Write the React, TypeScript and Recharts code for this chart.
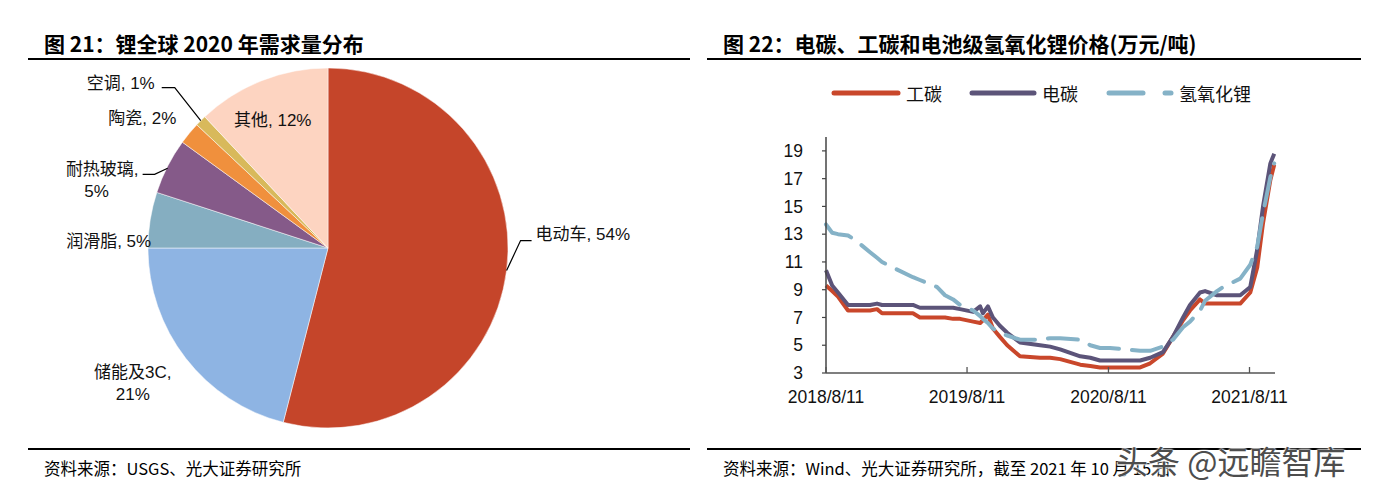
import React from "react";
import { PieChart, Pie, Cell, LineChart, Line, XAxis, YAxis } from "recharts";

// 图21 pie
const pieNames = ["电动车", "储能及3C", "润滑脂", "耐热玻璃", "陶瓷", "空调", "其他"];
const pieShares = [54, 21, 5, 5, 2, 1, 12];
const pieColors = ["#C5452A", "#8EB4E3", "#85AEC1", "#855A89", "#F0903D", "#D8B95B", "#FDD4C1"];

// 图22 price lines (万元/吨)
const priceDates = [
  "2018-08-11", "2018-08-27", "2018-09-11", "2018-10-07", "2018-10-25", "2018-12-03",
  "2018-12-21", "2019-01-03", "2019-01-31", "2019-03-24", "2019-04-11", "2019-05-25",
  "2019-06-15", "2019-07-06", "2019-07-24", "2019-08-27", "2019-09-14", "2019-09-21",
  "2019-10-04", "2019-10-17", "2019-11-04", "2019-11-23", "2019-12-26", "2020-02-16",
  "2020-03-13", "2020-04-08", "2020-05-30", "2020-06-25", "2020-07-20", "2020-08-15",
  "2020-11-01", "2020-11-27", "2020-12-30", "2021-01-25", "2021-02-20", "2021-03-10",
  "2021-04-05", "2021-04-18", "2021-05-19", "2021-06-04", "2021-07-18", "2021-08-13",
  "2021-08-31", "2021-09-15", "2021-10-04", "2021-10-14",
];
const gongTan = [
  9.3, 8.9, 8.5, 7.5, 7.5, 7.5, 7.6, 7.3, 7.3, 7.3, 7.0, 7.0,
  7.0, 6.9, 6.9, 6.7, 6.6, 6.8, 7.2, 6.2, 5.6, 5.0, 4.2, 4.1,
  4.1, 4.0, 3.6, 3.5, 3.4, 3.4, 3.4, 3.7, 4.4, 5.6, 6.8, 7.5,
  8.3, 8.0, 8.0, 8.0, 8.0, 8.8, 10.6, 13.8, 16.9, 18.0,
];
const dianTan = [
  10.4, 9.3, 8.8, 7.9, 7.9, 7.9, 8.0, 7.9, 7.9, 7.9, 7.7, 7.7,
  7.7, 7.7, 7.6, 7.4, 7.8, 7.3, 7.8, 7.0, 6.4, 5.9, 5.2, 5.0,
  4.9, 4.7, 4.2, 4.1, 3.9, 3.9, 3.9, 4.1, 4.5, 5.6, 7.0, 7.9,
  8.8, 8.9, 8.6, 8.6, 8.6, 9.2, 11.9, 15.0, 18.1, 18.8,
];
const lithiumHydroxide = [
  13.7, 13.1, 13.0, 12.9, 12.6, 11.7, 11.3, 11.0, 10.6, 9.9, 9.7, 9.2,
  8.6, 8.3, 7.9, 7.5, 7.1, 6.9, 6.6, 6.2, 5.9, 5.7, 5.4, 5.4,
  5.5, 5.5, 5.4, 5.0, 4.8, 4.8, 4.6, 4.6, 4.9, 5.4, 6.3, 6.7,
  7.5, 8.2, 8.9, 9.2, 9.8, 10.8, 12.1, 14.5, 17.1, 18.1,
];
const xTickDates = ["2018-08-11", "2019-08-11", "2020-08-11", "2021-08-11"];
const yTicks = [3, 5, 7, 9, 11, 13, 15, 17, 19];

const toT = (d: string) => {
  const [y, m, day] = d.split("-").map(Number);
  return Date.UTC(y, m - 1, day);
};
const fmtDate = (t: number) => {
  const d = new Date(t);
  return `${d.getUTCFullYear()}/${d.getUTCMonth() + 1}/${d.getUTCDate()}`;
};

const pieData = pieNames.map((name, i) => ({ name, value: pieShares[i] }));
const lineData = priceDates.map((d, i) => ({
  t: toT(d),
  gongTan: gongTan[i],
  dianTan: dianTan[i],
  lioh: lithiumHydroxide[i],
}));

const CJK = '"Noto Sans CJK SC", sans-serif';
const LABEL_FONT = '"Liberation Sans", Arial, "Noto Sans CJK SC", sans-serif';

// label placement relative to the slice's outer-edge midpoint
const labelLayout: Record<string, { leader?: number[][]; lines: { dx: number; dy: number; anchor: string; part: string }[] }> = {
  电动车: { leader: [[0, 0], [14, -30], [25, -30]], lines: [{ dx: 29, dy: -36, anchor: "start", part: "full" }] },
  储能及3C: {
    lines: [
      { dx: -53, dy: 14, anchor: "middle", part: "name" },
      { dx: -53, dy: 36, anchor: "middle", part: "pct" },
    ],
  },
  润滑脂: { lines: [{ dx: 1, dy: 22, anchor: "end", part: "full" }] },
  耐热玻璃: {
    leader: [[0, 2], [-13, 8], [-25, 8]],
    lines: [
      { dx: -29, dy: 3, anchor: "end", part: "name" },
      { dx: -71, dy: 25, anchor: "middle", part: "pct" },
    ],
  },
  陶瓷: { lines: [{ dx: -13, dy: -15, anchor: "end", part: "full" }] },
  空调: { leader: [[0, 0], [-26, -33], [-39, -33]], lines: [{ dx: -46, dy: -37, anchor: "end", part: "full" }] },
  其他: { lines: [{ dx: 11, dy: 40, anchor: "middle", part: "full" }] },
};

function PieLabel(props: any) {
  const { cx, cy, midAngle, outerRadius, name, value } = props;
  const rad = (-midAngle * Math.PI) / 180;
  const ex = cx + outerRadius * Math.cos(rad);
  const ey = cy + outerRadius * Math.sin(rad);
  const cfg = labelLayout[name];
  if (!cfg) return null;
  return (
    <g>
      {cfg.leader && (
        <polyline
          points={cfg.leader.map(([dx, dy]) => `${ex + dx},${ey + dy}`).join(" ")}
          fill="none"
          stroke="#000"
          strokeWidth={1.2}
        />
      )}
      {cfg.lines.map((l, i) => (
        <text
          key={i}
          x={ex + l.dx}
          y={ey + l.dy}
          textAnchor={l.anchor as any}
          dominantBaseline="central"
          fontSize={17}
          fontFamily={LABEL_FONT}
          fill="#111"
        >
          {l.part === "name" ? `${name},` : l.part === "pct" ? `${value}%` : `${name}, ${value}%`}
        </text>
      ))}
    </g>
  );
}

function XTick({ x, y, payload }: any) {
  return (
    <g>
      <line x1={x} x2={x} y1={y} y2={y - 6} stroke="#555" strokeWidth={1.3} />
      <text x={x} y={y + 30} textAnchor="middle" fontSize={17.5} fontFamily={LABEL_FONT} fill="#111">
        {fmtDate(payload.value)}
      </text>
    </g>
  );
}

const seriesInfo = [
  { key: "gongTan", name: "工碳", color: "#C9472B" },
  { key: "dianTan", name: "电碳", color: "#5C5479" },
  { key: "lioh", name: "氢氧化锂", color: "#85B2C7" },
];

function Header({ left, width, title }: { left: number; width: number; title: string }) {
  return (
    <>
      <div
        style={{
          position: "absolute",
          left: left + 16,
          top: 29,
          fontFamily: CJK,
          fontWeight: 700,
          fontSize: 21,
          lineHeight: "28px",
          color: "#000",
          whiteSpace: "nowrap",
        }}
      >
        {title}
      </div>
      <div style={{ position: "absolute", left, top: 58, width, height: 2, background: "#000" }} />
    </>
  );
}

function Footer({ left, width, text }: { left: number; width: number; text: string }) {
  return (
    <>
      <div style={{ position: "absolute", left, top: 448, width, height: 2, background: "#000" }} />
      <div
        style={{
          position: "absolute",
          left: left + 16,
          top: 457,
          fontFamily: CJK,
          fontSize: 16.5,
          lineHeight: "22px",
          color: "#000",
          whiteSpace: "nowrap",
        }}
      >
        {text}
      </div>
    </>
  );
}

export default function App() {
  return (
    <div
      style={{
        position: "absolute",
        left: 0,
        top: 0,
        width: 1379,
        height: 490,
        background: "#fff",
        overflow: "hidden",
      }}
    >
      <Header left={28} width={662} title="图 21：锂全球 2020 年需求量分布" />
      <Header left={707} width={654} title="图 22：电碳、工碳和电池级氢氧化锂价格(万元/吨)" />

      <div style={{ position: "absolute", left: 0, top: 0 }}>
        <PieChart width={690} height={490} margin={{ top: 0, right: 0, bottom: 0, left: 0 }}>
          <Pie
            data={pieData}
            dataKey="value"
            nameKey="name"
            cx={328}
            cy={248}
            outerRadius={180}
            startAngle={90}
            endAngle={-270}
            stroke="#ffffff"
            strokeWidth={0.5}
            label={<PieLabel />}
            labelLine={false}
            isAnimationActive={false}
          >
            {pieData.map((d, i) => (
              <Cell key={d.name} fill={pieColors[i]} />
            ))}
          </Pie>
        </PieChart>
      </div>

      {/* legend */}
      <svg style={{ position: "absolute", left: 700, top: 80 }} width={679} height={28}>
        <line x1={134} x2={198} y1={13} y2={13} stroke={seriesInfo[0].color} strokeWidth={5} strokeLinecap="round" />
        <text x={206} y={13} dominantBaseline="central" fontSize={18} fontFamily={CJK} fill="#111">
          {seriesInfo[0].name}
        </text>
        <line x1={272} x2={334} y1={13} y2={13} stroke={seriesInfo[1].color} strokeWidth={5} strokeLinecap="round" />
        <text x={342} y={13} dominantBaseline="central" fontSize={18} fontFamily={CJK} fill="#111">
          {seriesInfo[1].name}
        </text>
        <line x1={409} x2={443} y1={13} y2={13} stroke={seriesInfo[2].color} strokeWidth={5} strokeLinecap="round" />
        <line x1={465} x2={471} y1={13} y2={13} stroke={seriesInfo[2].color} strokeWidth={5} strokeLinecap="round" />
        <text x={479} y={13} dominantBaseline="central" fontSize={18} fontFamily={CJK} fill="#111">
          {seriesInfo[2].name}
        </text>
      </svg>

      <div style={{ position: "absolute", left: 700, top: 0 }}>
        <LineChart width={679} height={490} data={lineData} margin={{ top: 137, right: 104, bottom: 87, left: 0 }}>
          <XAxis
            dataKey="t"
            type="number"
            domain={[toT("2018-08-11"), toT("2021-10-16")]}
            ticks={xTickDates.map(toT)}
            tick={<XTick />}
            tickSize={0}
            tickMargin={0}
            tickLine={false}
            height={30}
            axisLine={{ stroke: "#555", strokeWidth: 1.5 }}
            interval={0}
          />
          <YAxis
            type="number"
            domain={[3, 20]}
            ticks={yTicks}
            width={126}
            tickSize={4}
            tickMargin={19}
            interval={0}
            axisLine={{ stroke: "#444", strokeWidth: 1.5 }}
            tickLine={{ stroke: "#444", strokeWidth: 1.2 }}
            tick={{ fill: "#111", fontSize: 17.5, fontFamily: LABEL_FONT }}
          />
          <Line
            dataKey="gongTan"
            name="工碳"
            type="linear"
            stroke={seriesInfo[0].color}
            strokeWidth={4}
            dot={false}
            strokeLinejoin="round"
            isAnimationActive={false}
          />
          <Line
            dataKey="dianTan"
            name="电碳"
            type="linear"
            stroke={seriesInfo[1].color}
            strokeWidth={4}
            dot={false}
            strokeLinejoin="round"
            isAnimationActive={false}
          />
          <Line
            dataKey="lioh"
            name="氢氧化锂"
            type="linear"
            stroke={seriesInfo[2].color}
            strokeWidth={4}
            strokeDasharray="30 13"
            strokeLinecap="round"
            dot={false}
            strokeLinejoin="round"
            isAnimationActive={false}
          />
        </LineChart>
      </div>

      <Footer left={28} width={662} text="资料来源：USGS、光大证券研究所" />
      <Footer left={707} width={654} text="资料来源：Wind、光大证券研究所，截至 2021 年 10 月 15 日" />

      <div
        style={{
          position: "absolute",
          left: 1116,
          top: 438,
          fontFamily: CJK,
          fontSize: 32,
          lineHeight: "44px",
          color: "#4d4d4d",
          whiteSpace: "nowrap",
          textShadow: "0 0 2px #fff, 0 0 2px #fff, 0 0 3px #fff",
        }}
      >
        头条 @远瞻智库
      </div>
    </div>
  );
}
